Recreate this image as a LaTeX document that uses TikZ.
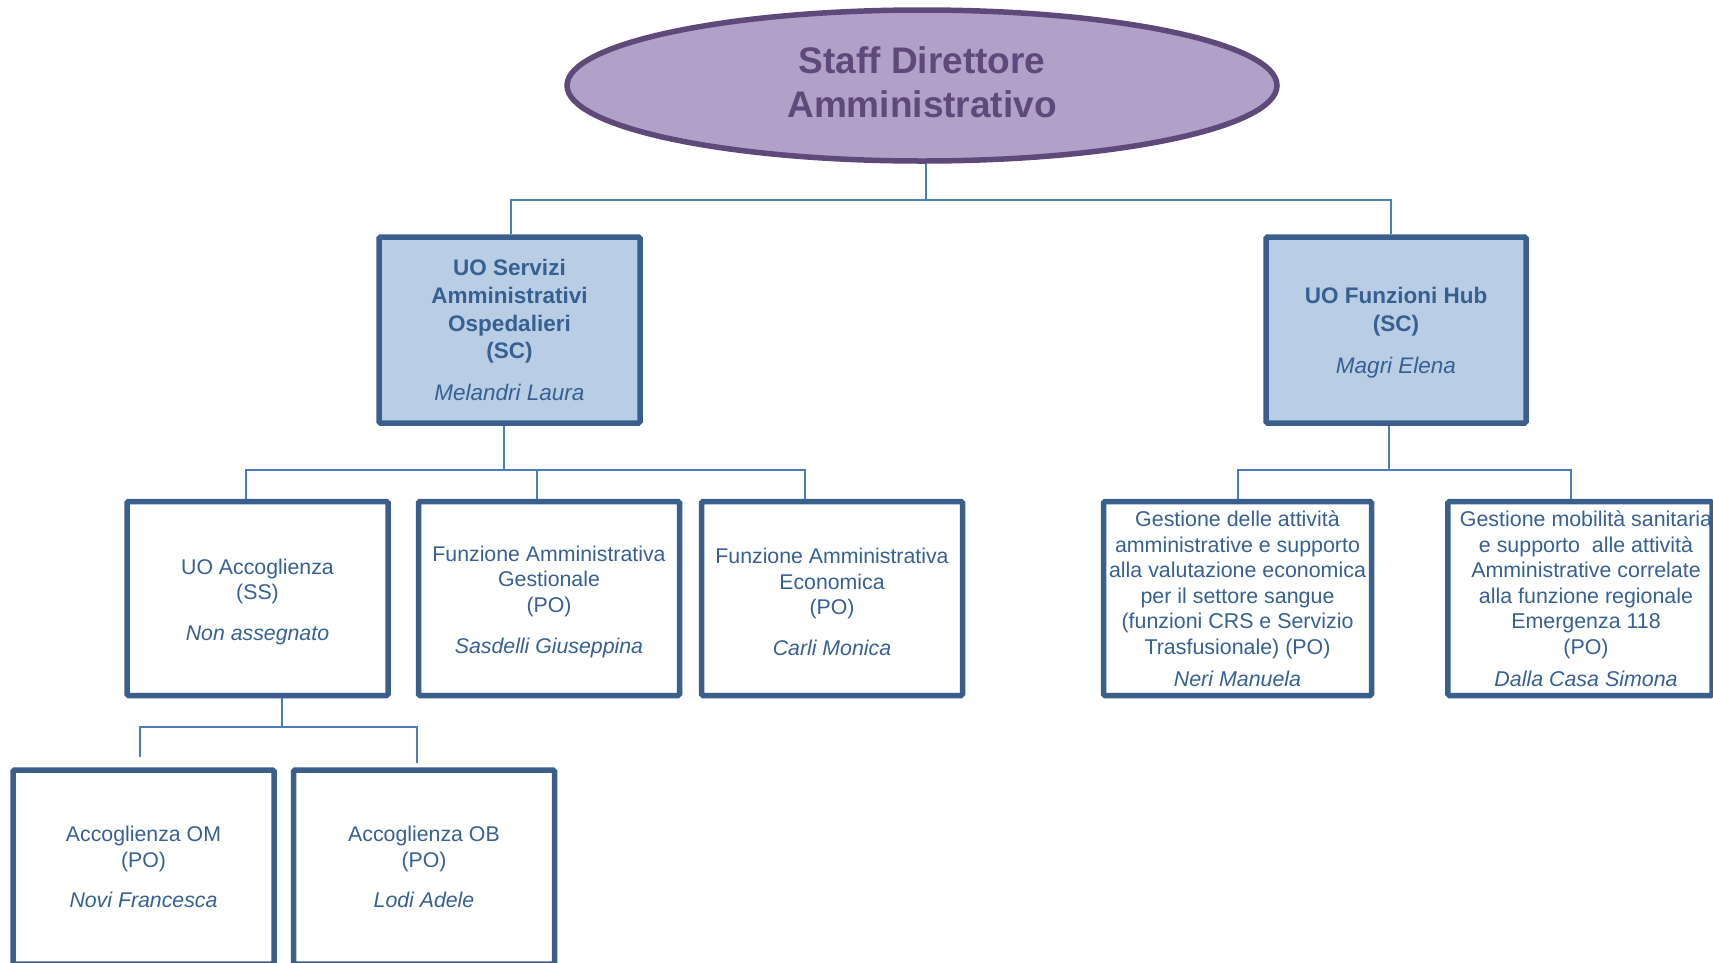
\documentclass[tikz,border=0pt]{standalone}
\usepackage{fontspec}
\setmainfont{Liberation Sans}
\usetikzlibrary{shapes.geometric,calc}
\definecolor{ellfill}{HTML}{B1A0C7}
\definecolor{elldraw}{HTML}{5F497A}
\definecolor{boxdraw}{HTML}{3A5F8C}
\definecolor{boxfill}{HTML}{B9CDE5}
\definecolor{txt}{HTML}{376092}
\definecolor{conncol}{HTML}{4A7EBB}
\newcommand{\myup}{\rule{0pt}{22pt}}
\begin{document}
\begin{tikzpicture}[x=1pt,y=-1pt,
  unit/.style={draw=boxdraw, line width=5.5pt, rounded corners=1.5pt, minimum width=261pt, minimum height=194pt, align=center, text=txt, inner sep=0pt, font=\fontsize{21.3}{25.8}\selectfont},
  topunit/.style={unit, fill=boxfill, minimum height=186pt, font=\bfseries\fontsize{22.5}{27.7}\selectfont},
  smallunit/.style={unit, font=\fontsize{21.4}{25.6}\selectfont},
  conn/.style={draw=conncol, line width=2pt}]
\path[use as bounding box] (0,0) rectangle (1713,962);

\node[ellipse, draw=elldraw, fill=ellfill, line width=5.5pt, minimum width=710pt, minimum height=151pt, inner sep=0pt, align=center, text=elldraw, font=\bfseries\fontsize{37}{44}\selectfont] (top) at (922,85.5) {Staff Direttore\\Amministrativo\rule[-7pt]{0pt}{1pt}};

\node[topunit] (serv) at (509.5,330) {UO Servizi\\Amministrativi\\Ospedalieri\\(SC)\\[14pt]\mdseries\itshape Melandri Laura};
\node[topunit, minimum width=260pt] (hub) at (1396,330) {\myup UO Funzioni Hub\\(SC)\\[15pt]\mdseries\itshape Magri Elena};

\node[unit] (acc) at (257.5,598.5) {\myup UO Accoglienza\\(SS)\\[15pt]\itshape Non assegnato};
\node[unit] (ges) at (549,598.5) {\myup Funzione Amministrativa\\Gestionale\\(PO)\\[15pt]\itshape Sasdelli Giuseppina};
\node[unit] (eco) at (832,598.5) {\myup Funzione Amministrativa\\Economica\\(PO)\\[15pt]\itshape Carli Monica};
\node[smallunit, minimum width=268pt] (neri) at (1237.5,598.5) {Gestione delle attività\\amministrative e supporto\\alla valutazione economica\\per il settore sangue\\(funzioni CRS e Servizio\\Trasfusionale) (PO)\\[6pt]\itshape Neri Manuela};
\node[smallunit, minimum width=260pt] (dalla) at (1580,598.5) {\hspace*{12pt}Gestione mobilità sanitaria\\\hspace*{12pt}e supporto\ \ alle attività\\\hspace*{12pt}Amministrative correlate\\\hspace*{12pt}alla funzione regionale\\\hspace*{12pt}Emergenza 118\\\hspace*{12pt}(PO)\\[6pt]\hspace*{12pt}\itshape Dalla Casa Simona};

\node[unit] (om) at (143.5,867) {Accoglienza OM\\(PO)\\[15pt]\itshape Novi Francesca};
\node[unit] (ob) at (424,867) {Accoglienza OB\\(PO)\\[15pt]\itshape Lodi Adele};

% level 1
\coordinate (b1) at (926,200);
\draw[conn] ([xshift=4pt]top.south) -- (b1);
\draw[conn] ([xshift=1.5pt]serv.north) |- (b1) -| ([xshift=-5pt]hub.north);

% level 2 left
\coordinate (b2) at (504,470);
\draw[conn] ([xshift=-5.5pt]serv.south) -- (b2);
\draw[conn] ([xshift=-11.5pt]acc.north) |- (b2) -| ([xshift=-27pt]eco.north);
\coordinate (g1) at ($(ges.north)+(-12,0)$);
\draw[conn] (g1) -- (g1 |- b2);

% level 2 right
\coordinate (b3) at (1389,470);
\draw[conn] ([xshift=-7pt]hub.south) -- (b3);
\draw[conn] (neri.north) |- (b3) -| ([xshift=-9pt]dalla.north);

% level 3
\coordinate (b4) at (282,727);
\coordinate (om1) at (140,757);
\coordinate (ob1) at (417,763);
\draw[conn] ([xshift=24.5pt]acc.south) -- (b4);
\draw[conn] (om1) |- (b4) -| (ob1);
\end{tikzpicture}
\end{document}
